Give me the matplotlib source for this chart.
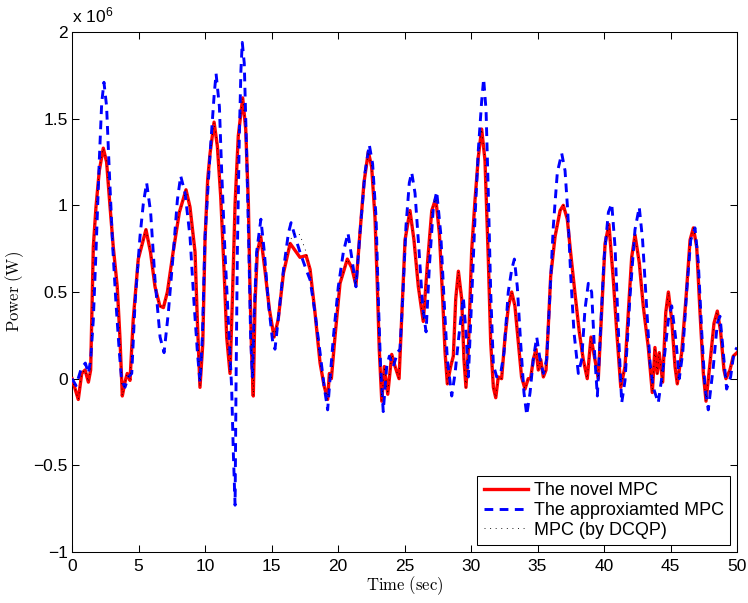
import numpy as np
import matplotlib
matplotlib.use("Agg")
import matplotlib.pyplot as plt
from matplotlib.ticker import FuncFormatter

# power in units of 1e6 W
novel = [
    (0.0, 0.0), (0.47, -0.12), (0.73, 0.03), (0.98, 0.05), (1.23, -0.02), (1.4, 0.05),
    (1.53, 0.53), (1.6, 0.76), (1.8, 0.99), (2.05, 1.20), (2.35, 1.33), (2.6, 1.25),
    (2.86, 0.99), (3.1, 0.76), (3.4, 0.53), (3.6, 0.24), (3.78, -0.10), (3.98, -0.02),
    (4.15, 0.03), (4.36, -0.01), (4.6, 0.34), (4.98, 0.69), (5.56, 0.86), (5.9, 0.73),
    (6.24, 0.53), (6.6, 0.42), (6.87, 0.41), (7.17, 0.50), (7.6, 0.73), (8.07, 0.96),
    (8.57, 1.09), (8.87, 0.99), (9.25, 0.73), (9.42, 0.34), (9.62, -0.05), (9.83, 0.20),
    (10.0, 0.80), (10.2, 1.15), (10.38, 1.30), (10.68, 1.48), (10.93, 1.34), (11.18, 1.05),
    (11.43, 0.63), (11.63, 0.24), (11.88, 0.03), (12.05, 0.44), (12.26, 1.01), (12.5, 1.40),
    (12.83, 1.62), (13.06, 1.44), (13.26, 1.01), (13.38, 0.53), (13.5, 0.15), (13.63, -0.10),
    (13.76, 0.44), (13.93, 0.73), (14.19, 0.82), (14.5, 0.63), (14.84, 0.40), (15.19, 0.24),
    (15.5, 0.34), (15.9, 0.61), (16.4, 0.78), (16.77, 0.74), (17.14, 0.70), (17.6, 0.71),
    (17.9, 0.63), (18.27, 0.38), (18.65, 0.09), (18.95, -0.04), (19.22, -0.12), (19.35, 0.03),
    (19.5, 0.0), (19.77, 0.24), (20.15, 0.55), (20.7, 0.69), (21.03, 0.64), (21.35, 0.54),
    (21.65, 0.84), (21.95, 1.13), (22.28, 1.31), (22.53, 1.22), (22.78, 0.93), (22.95, 0.55),
    (23.1, 0.17), (23.29, -0.13), (23.48, 0.07), (23.74, -0.09), (24.04, 0.14), (24.29, 0.07),
    (24.59, 0.0), (24.79, 0.36), (25.04, 0.80), (25.41, 0.97), (25.71, 0.80), (26.04, 0.53),
    (26.41, 0.33), (26.71, 0.65), (27.05, 0.97), (27.35, 1.04), (27.62, 0.84), (27.87, 0.46),
    (28.05, 0.15), (28.22, -0.03), (28.47, 0.07), (28.67, 0.13), (28.85, 0.46), (29.05, 0.62),
    (29.3, 0.46), (29.47, 0.11), (29.62, -0.05), (29.8, 0.17), (30.05, 0.74), (30.3, 1.03),
    (30.55, 1.28), (30.8, 1.44), (31.05, 1.26), (31.3, 0.69), (31.48, 0.21), (31.68, -0.05),
    (31.86, -0.11), (32.05, 0.01), (32.3, 0.0), (32.56, 0.24), (32.8, 0.41), (33.06, 0.50),
    (33.3, 0.42), (33.56, 0.21), (33.8, 0.01), (34.06, -0.06), (34.3, 0.0), (34.48, 0.0),
    (34.68, 0.11), (34.89, 0.17), (35.06, 0.05), (35.24, 0.11), (35.44, 0.01), (35.64, 0.05),
    (35.81, 0.30), (35.99, 0.59), (36.32, 0.82), (36.7, 0.97), (36.94, 1.00), (37.24, 0.92),
    (37.5, 0.72), (37.82, 0.49), (38.14, 0.27), (38.44, 0.11), (38.74, 0.0), (39.02, 0.24),
    (39.32, 0.11), (39.57, 0.0), (39.83, 0.40), (40.08, 0.78), (40.37, 0.89), (40.7, 0.57),
    (40.95, 0.28), (41.26, -0.05), (41.58, 0.07), (41.83, 0.38), (42.08, 0.70), (42.33, 0.83),
    (42.65, 0.67), (42.95, 0.42), (43.33, 0.18), (43.63, -0.08), (43.83, 0.18), (44.0, 0.03),
    (44.15, 0.15), (44.41, -0.02), (44.64, 0.38), (44.84, 0.50), (45.09, 0.34), (45.34, 0.07),
    (45.51, -0.03), (45.84, 0.15), (46.17, 0.47), (46.47, 0.80), (46.72, 0.87), (46.97, 0.76),
    (47.22, 0.38), (47.47, 0.03), (47.67, -0.13), (47.97, 0.09), (48.27, 0.32), (48.52, 0.39),
    (48.77, 0.27), (49.02, 0.05), (49.17, 0.0), (49.47, 0.05), (49.72, 0.13), (50.0, 0.15),
]

approx = [
    (0.0, 0.0), (0.3, -0.04), (0.7, 0.06), (1.0, 0.09), (1.23, 0.03), (1.4, 0.11),
    (1.6, 0.34), (1.8, 0.73), (2.05, 1.26), (2.23, 1.59), (2.4, 1.71), (2.6, 1.57),
    (2.8, 1.20), (3.06, 0.76), (3.3, 0.44), (3.56, 0.15), (3.73, -0.01), (3.98, -0.05),
    (4.24, 0.01), (4.49, 0.03), (4.74, 0.44), (5.11, 0.82), (5.36, 1.01), (5.61, 1.13),
    (5.91, 0.96), (6.24, 0.57), (6.62, 0.24), (6.92, 0.15), (7.24, 0.38), (7.62, 0.73),
    (7.92, 1.03), (8.17, 1.17), (8.5, 1.07), (8.87, 0.82), (9.17, 0.44), (9.43, 0.15),
    (9.62, -0.02), (9.8, 0.24), (10.0, 0.82), (10.38, 1.30), (10.68, 1.63), (10.83, 1.76),
    (11.08, 1.57), (11.25, 1.20), (11.5, 0.73), (11.75, 0.34), (12.0, -0.05), (12.13, -0.43),
    (12.26, -0.73), (12.33, -0.05), (12.43, 0.73), (12.58, 1.40), (12.7, 1.78), (12.8, 1.94),
    (12.95, 1.82), (13.13, 1.30), (13.3, 0.73), (13.43, 0.24), (13.56, 0.01), (13.68, 0.34),
    (13.88, 0.73), (14.2, 0.92), (14.46, 0.73), (14.76, 0.44), (15.09, 0.21), (15.26, 0.17),
    (15.5, 0.34), (15.9, 0.63), (16.27, 0.84), (16.47, 0.90), (16.77, 0.82), (17.14, 0.73),
    (17.6, 0.63), (17.9, 0.57), (18.27, 0.38), (18.65, 0.15), (18.95, -0.04), (19.22, -0.18),
    (19.4, 0.0), (19.65, 0.24), (20.02, 0.53), (20.4, 0.73), (20.75, 0.84), (21.03, 0.70),
    (21.35, 0.53), (21.65, 0.84), (22.03, 1.19), (22.35, 1.35), (22.6, 1.24), (22.86, 0.93),
    (23.03, 0.46), (23.2, 0.07), (23.4, -0.19), (23.66, 0.07), (23.86, 0.13), (24.16, 0.07),
    (24.46, 0.15), (24.66, 0.17), (24.86, 0.46), (25.11, 0.88), (25.36, 1.13), (25.54, 1.19),
    (25.79, 1.07), (26.09, 0.74), (26.37, 0.41), (26.62, 0.27), (26.87, 0.65), (27.17, 0.99),
    (27.42, 1.08), (27.72, 0.84), (27.97, 0.46), (28.22, 0.11), (28.55, -0.10), (28.8, 0.03),
    (29.05, 0.22), (29.42, 0.47), (29.62, 0.27), (29.8, 0.01), (30.05, 0.46), (30.3, 0.93),
    (30.55, 1.32), (30.8, 1.60), (30.95, 1.73), (31.13, 1.55), (31.3, 1.07), (31.48, 0.50),
    (31.68, 0.08), (31.93, 0.01), (32.23, 0.03), (32.48, 0.15), (32.8, 0.50), (33.06, 0.63),
    (33.26, 0.69), (33.48, 0.53), (33.73, 0.21), (33.98, -0.08), (34.19, -0.21), (34.44, -0.08),
    (34.68, 0.11), (34.94, 0.24), (35.19, 0.11), (35.44, 0.03), (35.69, 0.11), (35.94, 0.50),
    (36.19, 0.88), (36.49, 1.19), (36.82, 1.30), (37.07, 1.20), (37.27, 0.97), (37.5, 0.59),
    (37.74, 0.27), (38.07, 0.03), (38.32, 0.11), (38.57, 0.40), (38.82, 0.55), (39.07, 0.50),
    (39.32, 0.11), (39.5, -0.10), (39.75, 0.30), (40.0, 0.69), (40.33, 0.96), (40.58, 1.01),
    (40.83, 0.76), (41.08, 0.28), (41.33, -0.14), (41.58, -0.01), (41.95, 0.47), (42.33, 0.86),
    (42.65, 0.99), (42.9, 0.80), (43.2, 0.42), (43.46, 0.09), (43.7, -0.05), (44.08, -0.14),
    (44.46, 0.07), (44.84, 0.34), (45.09, 0.42), (45.41, 0.22), (45.66, 0.0), (45.92, 0.15),
    (46.22, 0.51), (46.52, 0.80), (46.84, 0.87), (47.09, 0.67), (47.34, 0.28), (47.59, -0.05),
    (47.84, -0.18), (48.22, 0.07), (48.52, 0.32), (48.72, 0.36), (48.97, 0.15), (49.22, -0.06),
    (49.52, 0.01), (49.77, 0.15), (50.0, 0.18),
]

# DCQP follows the novel MPC except around t = 16..18 s
dcqp_diff = {16.4: 0.80, 16.77: 0.84, 17.14: 0.83, 17.6: 0.73}

labels = ["The novel MPC", "The approxiamted MPC", "MPC (by DCQP)"]
xticks = [0, 5, 10, 15, 20, 25, 30, 35, 40, 45, 50]
yticks = [-1, -0.5, 0, 0.5, 1, 1.5, 2]

t1, p1 = np.array(novel).T
t2, p2 = np.array(approx).T
p3 = np.array([dcqp_diff.get(t, p) for t, p in novel])

plt.rcParams["font.family"] = ["Liberation Sans", "DejaVu Sans"]
plt.rcParams["mathtext.fontset"] = "cm"

fig = plt.figure(figsize=(7.48, 6.03), dpi=100)
ax = fig.add_axes([0.0963, 0.0846, 0.8890, 0.8623])

ax.plot(t1, p1, color="red", lw=2.4, label=labels[0], zorder=3)
ax.plot(t2, p2, color="blue", lw=2.1, dashes=(3.0, 2.2), label=labels[1], zorder=4)
ax.plot(t1, p3, color="black", lw=0.6, dashes=(1.2, 5.5), label=labels[2], zorder=5)

ax.set_xlim(0, 50)
ax.set_ylim(-1, 2)
ax.set_xticks(xticks)
ax.set_yticks(yticks)
ax.yaxis.set_major_formatter(FuncFormatter(lambda v, _: f"{v:g}".replace("-", "\u2212")))
ax.tick_params(direction="in", top=True, right=True, length=5, width=0.75,
               labelsize=12.5)
ax.tick_params(axis="y", pad=3)
ax.tick_params(axis="x", pad=5)
for s in ax.spines.values():
    s.set_linewidth(0.75)

ax.text(0, 1.017, r"x 10$^{\mathregular{6}}$", transform=ax.transAxes,
        ha="left", va="baseline", fontsize=12.5)

ax.set_xlabel(r"$\mathrm{Time\ (sec)}$", fontsize=12)
ax.set_ylabel(r"$\mathrm{Power\ (W)}$", fontsize=12)
ax.xaxis.set_label_coords(0.5, -0.042)
ax.yaxis.set_label_coords(-0.069, 0.5)

leg = ax.legend(loc="lower right", fancybox=False, edgecolor="black", framealpha=1,
                fontsize=13, handlelength=2.45, handletextpad=0.33, labelspacing=0.15,
                borderpad=0.35, borderaxespad=0.38)
leg.get_frame().set_linewidth(0.75)

fig.savefig("out.png", dpi=100)
